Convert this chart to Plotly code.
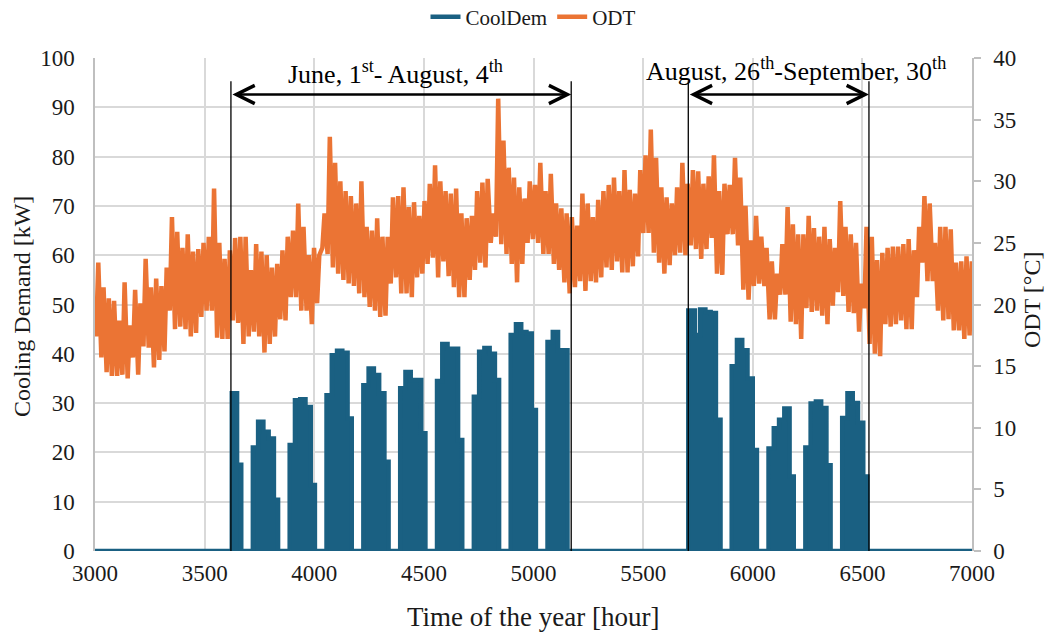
import plotly.graph_objects as go

# ---------------- data ----------------
# Outdoor temperature: daily max / min [°C], day 0 = hour 3000
odt_max = [23.4,21.4,20.5,20.3,18.7,21.8,18.3,21.2,20.1,23.7,21.4,22.1,21.5,23.0,27.1,25.9,24.6,25.7,24.3,24.5,
           25.0,25.5,29.4,25.0,23.7,24.4,25.4,25.5,25.5,22.8,24.9,24.3,24.0,
           23.0,23.3,24.4,25.5,26.0,28.2,26.3,24.0,24.6,24.0,27.4,33.6,31.5,30.0,29.2,28.8,28.2,30.0,26.3,26.0,
           27.0,25.5,25.5,28.7,28.8,29.5,27.9,28.3,27.2,28.4,29.8,31.3,30.0,29.2,
           29.0,29.4,27.4,27.0,27.2,29.2,29.9,30.2,27.4,36.7,33.3,31.1,30.3,29.5,28.6,30.0,29.7,31.5,29.2,30.6,
           28.2,27.8,27.4,27.1,26.4,29.0,28.2,27.1,28.5,29.2,29.7,30.3,29.2,
           30.9,29.3,29.0,30.9,32.1,34.2,31.9,29.5,28.7,28.2,29.5,31.5,29.8,30.9,30.8,29.8,30.4,32.1,29.2,29.8,
           29.7,31.9,30.3,28.0,25.2,27.2,25.5,24.6,23.5,22.5,24.9,27.9,26.5,
           25.7,25.7,27.2,26.2,25.5,26.3,25.3,24.6,28.4,26.3,25.7,25.0,21.7,26.3,25.5,23.6,24.2,24.6,24.7,24.7,
           24.9,25.3,24.4,26.3,28.8,28.2,25.0,26.3,26.3,26.1,23.4,23.5,23.9,23.5]
odt_min = [17.4,15.7,14.5,14.2,14.2,14.3,14.0,15.7,14.3,16.6,16.5,14.9,15.5,16.2,19.5,18.0,18.2,18.0,17.4,17.7,
           19.0,19.5,19.5,17.3,17.2,17.2,18.7,18.5,16.8,17.4,17.8,17.4,16.1,
           16.8,17.4,18.8,18.7,20.6,20.6,19.5,19.5,18.4,20.1,24.6,24.1,23.0,22.5,22.0,21.7,21.5,20.9,20.6,19.8,
           19.5,19.0,19.1,21.7,22.2,20.9,20.9,20.6,22.2,22.5,23.3,23.8,22.2,23.5,
           22.3,21.4,20.6,20.6,22.0,22.8,23.4,23.0,25.0,25.5,24.9,24.1,23.3,21.8,23.3,25.0,25.3,25.0,24.1,24.1,
           23.3,22.8,21.8,20.9,21.4,21.9,21.1,21.9,21.8,22.2,23.0,22.8,23.5,
           22.6,22.6,23.1,23.9,25.8,25.8,24.2,23.4,22.5,23.2,24.0,24.2,24.0,24.8,24.5,23.7,24.5,25.4,22.5,22.4,
           25.7,25.7,24.8,21.2,20.4,21.5,21.7,21.5,18.8,18.8,20.8,20.8,18.6,
           18.4,17.2,19.7,19.4,19.5,19.1,18.4,19.9,21.0,20.7,19.4,19.3,17.8,19.7,16.8,16.0,15.8,18.4,18.2,18.4,
           18.7,18.0,18.0,20.6,23.4,21.9,21.9,19.5,18.7,18.8,17.9,17.9,17.2,17.5]
first_hour = 3000

# Cooling demand: operating blocks (start / end hour) and daily levels [kW]
block_start = [3624, 3720, 3888, 4056, 4224, 4392, 4560, 4728, 4896, 5064,
               5706, 5904, 6072, 6240, 6408]
block_end = [3667, 3835, 4003, 4171, 4339, 4507, 4675, 4843, 5011, 5155,
             5853, 6019, 6187, 6355, 6523]
block_levels = [
    [32.0, 17.5],
    [21.0, 26.2, 24.2, 22.8, 10.4],
    [21.5, 30.6, 30.8, 29.2, 13.4],
    [31.6, 39.7, 40.6, 40.2, 26.9],
    [33.6, 37.0, 35.7, 32.0, 18.1],
    [33.0, 36.3, 34.7, 34.7, 23.9],
    [34.5, 42.0, 41.0, 41.0, 22.5],
    [31.3, 40.4, 41.2, 40.0, 34.7],
    [43.8, 46.0, 44.4, 44.1, 28.6],
    [42.4, 44.4, 40.7, 40.7],
    [48.8, 48.8, 43.8, 49.0, 48.5, 48.3, 26.6],
    [37.5, 42.8, 40.7, 35.0, 20.5],
    [20.8, 24.9, 26.6, 28.9, 15.1],
    [21.0, 29.9, 30.3, 29.0, 17.4],
    [27.0, 32.0, 30.0, 26.0, 15.1],
]
x_range = [3000, 7000]

# period markers (hours) and labels
periods = [(3620, 5172), (5706, 6530)]
period_labels = ["June, 1<sup>st</sup>- August, 4<sup>th</sup>",
                 "August, 26<sup>th</sup>-September, 30<sup>th</sup>"]
label_x = [4370, 6195]
label_y = [97.0, 97.6]

# ---------------- build series ----------------
odt_x, odt_y = [], []
for d, (mn, mx) in enumerate(zip(odt_min, odt_max)):
    odt_x += [first_hour + d * 24 + 5, first_hour + d * 24 + 15]
    odt_y += [mn, mx]

cd_x, cd_y = [x_range[0]], [0]
for s, e, lv in zip(block_start, block_end, block_levels):
    t = s
    for v in lv:
        cd_x.append(t)
        cd_y.append(v)
        t = (t // 24 + 1) * 24
    cd_x.append(e)
    cd_y.append(0)
cd_x.append(x_range[1])
cd_y.append(0)

BLUE = "#1A6082"
ORANGE = "#EB7434"
FONT = "Liberation Serif"
TXT = "#1a1a1a"

fig = go.Figure()
# filled area of the cooling demand (legend shown by the line trace)
fig.add_trace(go.Scatter(x=cd_x, y=cd_y, mode="lines", name="CoolDem", showlegend=False,
                         line=dict(color=BLUE, width=0, shape="hv"),
                         fill="tozeroy", fillcolor=BLUE, yaxis="y", hoverinfo="skip"))
fig.add_trace(go.Scatter(x=cd_x, y=cd_y, mode="lines", name="CoolDem",
                         line=dict(color=BLUE, width=4.5, shape="hv"), yaxis="y"))
fig.add_trace(go.Scatter(x=odt_x, y=odt_y, mode="lines", name="ODT",
                         line=dict(color=ORANGE, width=4.5), yaxis="y2"))

# period lines, arrows, labels
for (a, b), lab, lx, ly in zip(periods, period_labels, label_x, label_y):
    for xv in (a, b):
        fig.add_shape(type="line", x0=xv, x1=xv, y0=0, y1=95.3, xref="x", yref="y",
                      line=dict(color="black", width=1.3), layer="above")
    fig.add_annotation(x=b, y=92.6, ax=a, ay=92.6, xref="x", yref="y", axref="x", ayref="y",
                       text="", showarrow=True, arrowhead=5, startarrowhead=5, arrowside="end+start",
                       arrowsize=1.5, startarrowsize=1.5, arrowwidth=2.4, arrowcolor="black")
    fig.add_annotation(x=lx, y=ly, xref="x", yref="y", text=lab, showarrow=False,
                       font=dict(family=FONT, size=26, color="black"), yanchor="middle")

# axis titles
fig.add_annotation(text="Cooling Demand [kW]", x=-0.0832, y=0.495, xref="paper", yref="paper",
                   textangle=-90, showarrow=False, xanchor="center", yanchor="middle",
                   font=dict(family=FONT, size=24, color=TXT))
fig.add_annotation(text="ODT [°C]", x=1.0684, y=0.509, xref="paper", yref="paper",
                   textangle=-90, showarrow=False, xanchor="center", yanchor="middle",
                   font=dict(family=FONT, size=24, color=TXT))
fig.add_annotation(text="Time of the year [hour]", x=0.4989, y=-0.134, xref="paper", yref="paper",
                   showarrow=False, xanchor="center", yanchor="middle",
                   font=dict(family=FONT, size=27, color=TXT))

fig.update_layout(
    width=1056, height=632,
    margin=dict(l=95, r=84, t=58, b=81, autoexpand=False),
    paper_bgcolor="white", plot_bgcolor="white",
    font=dict(family=FONT, size=23, color=TXT),
    showlegend=True,
    legend=dict(orientation="h", x=0.5, xanchor="center", yref="container", y=0.973, yanchor="middle",
                font=dict(family=FONT, size=21, color=TXT), bgcolor="rgba(0,0,0,0)"),
    xaxis=dict(range=x_range, dtick=500, tick0=3000, showgrid=True, gridcolor="#D9D9D9", gridwidth=1.5,
               zeroline=False, showline=False, ticks="", automargin=False, ticklabelstandoff=6),
    yaxis=dict(range=[0, 100], dtick=10, showgrid=True, gridcolor="#D9D9D9", gridwidth=1.5,
               zeroline=False, showline=True, linecolor="#BFBFBF", linewidth=1.5, ticks="",
               automargin=False, ticklabelstandoff=14),
    yaxis2=dict(range=[0, 40], dtick=5, overlaying="y", side="right", showgrid=False, zeroline=False,
                showline=True, linecolor="#BFBFBF", linewidth=1.5, ticks="outside", ticklen=7,
                tickcolor="#BFBFBF", tickwidth=1.5, automargin=False, ticklabelstandoff=8),
)

fig.write_html("out.html", config={"displayModeBar": False},
               post_script="document.body.style.margin='0';document.body.style.padding='0';")
